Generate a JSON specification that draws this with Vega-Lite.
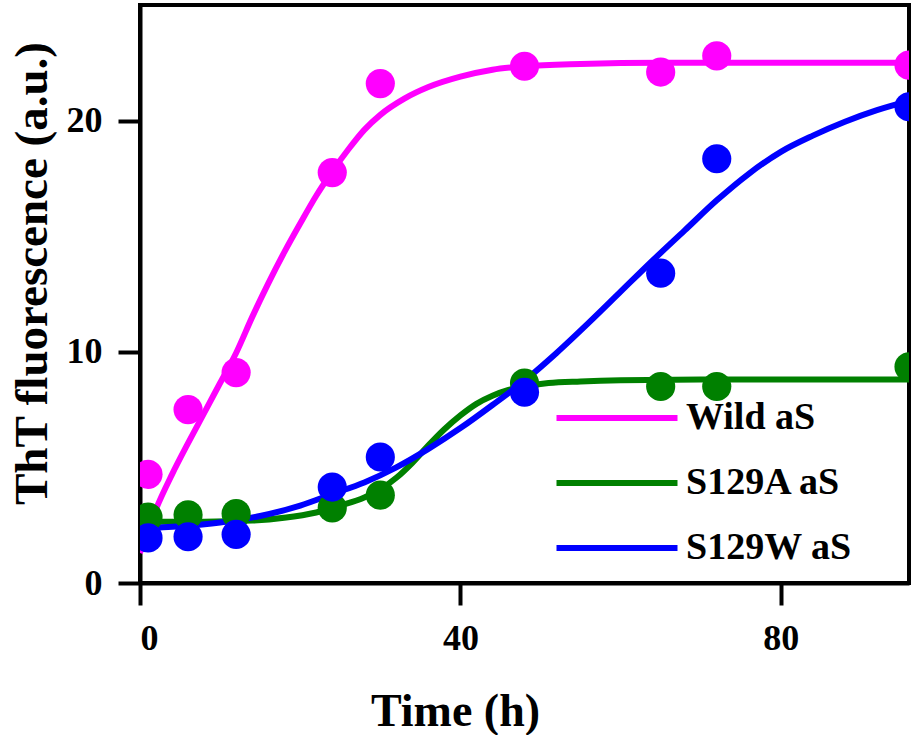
{
  "$schema": "https://vega.github.io/schema/vega-lite/v6.json",
  "description": "ThT fluorescence kinetics of wild-type and S129 mutant aS",
  "autosize": {"type": "none"},
  "padding": {"left": 140, "top": 5, "right": 4, "bottom": 152},
  "width": 769,
  "height": 578,
  "datasets": {
    "points": [
      {"series": "Wild aS", "time": 1, "value": 4.7},
      {"series": "Wild aS", "time": 6, "value": 7.5},
      {"series": "Wild aS", "time": 12, "value": 9.1},
      {"series": "Wild aS", "time": 24, "value": 17.75},
      {"series": "Wild aS", "time": 30, "value": 21.6},
      {"series": "Wild aS", "time": 48, "value": 22.35},
      {"series": "Wild aS", "time": 65, "value": 22.1},
      {"series": "Wild aS", "time": 72, "value": 22.8},
      {"series": "Wild aS", "time": 96, "value": 22.4},
      {"series": "S129A aS", "time": 1, "value": 2.85},
      {"series": "S129A aS", "time": 6, "value": 2.95},
      {"series": "S129A aS", "time": 12, "value": 3.0},
      {"series": "S129A aS", "time": 24, "value": 3.25},
      {"series": "S129A aS", "time": 30, "value": 3.8},
      {"series": "S129A aS", "time": 48, "value": 8.65},
      {"series": "S129A aS", "time": 65, "value": 8.5},
      {"series": "S129A aS", "time": 72, "value": 8.5},
      {"series": "S129A aS", "time": 96, "value": 9.35},
      {"series": "S129W aS", "time": 1, "value": 1.95},
      {"series": "S129W aS", "time": 6, "value": 2.0},
      {"series": "S129W aS", "time": 12, "value": 2.1},
      {"series": "S129W aS", "time": 24, "value": 4.15},
      {"series": "S129W aS", "time": 30, "value": 5.45},
      {"series": "S129W aS", "time": 48, "value": 8.25},
      {"series": "S129W aS", "time": 65, "value": 13.4},
      {"series": "S129W aS", "time": 72, "value": 18.35},
      {"series": "S129W aS", "time": 96, "value": 20.6}
    ],
    "fits": [
      {"series": "Wild aS", "time": 0, "value": 1.3},
      {"series": "Wild aS", "time": 1, "value": 2.3},
      {"series": "Wild aS", "time": 2, "value": 3.2},
      {"series": "Wild aS", "time": 4, "value": 4.7},
      {"series": "Wild aS", "time": 6, "value": 6.05},
      {"series": "Wild aS", "time": 8, "value": 7.35},
      {"series": "Wild aS", "time": 10, "value": 8.65},
      {"series": "Wild aS", "time": 12, "value": 9.95},
      {"series": "Wild aS", "time": 14, "value": 11.5},
      {"series": "Wild aS", "time": 16, "value": 12.95},
      {"series": "Wild aS", "time": 18, "value": 14.3},
      {"series": "Wild aS", "time": 20, "value": 15.55},
      {"series": "Wild aS", "time": 22, "value": 16.75},
      {"series": "Wild aS", "time": 24, "value": 17.8},
      {"series": "Wild aS", "time": 26, "value": 18.75},
      {"series": "Wild aS", "time": 28, "value": 19.6},
      {"series": "Wild aS", "time": 30, "value": 20.25},
      {"series": "Wild aS", "time": 33, "value": 20.95},
      {"series": "Wild aS", "time": 36, "value": 21.45},
      {"series": "Wild aS", "time": 40, "value": 21.9},
      {"series": "Wild aS", "time": 44, "value": 22.2},
      {"series": "Wild aS", "time": 48, "value": 22.35},
      {"series": "Wild aS", "time": 55, "value": 22.45},
      {"series": "Wild aS", "time": 65, "value": 22.5},
      {"series": "Wild aS", "time": 96, "value": 22.5},
      {"series": "S129A aS", "time": 0, "value": 2.65},
      {"series": "S129A aS", "time": 8, "value": 2.65},
      {"series": "S129A aS", "time": 14, "value": 2.7},
      {"series": "S129A aS", "time": 18, "value": 2.82},
      {"series": "S129A aS", "time": 22, "value": 3.05},
      {"series": "S129A aS", "time": 25, "value": 3.35},
      {"series": "S129A aS", "time": 28, "value": 3.7},
      {"series": "S129A aS", "time": 30, "value": 4.05},
      {"series": "S129A aS", "time": 32, "value": 4.55},
      {"series": "S129A aS", "time": 34, "value": 5.2},
      {"series": "S129A aS", "time": 36, "value": 5.95},
      {"series": "S129A aS", "time": 38, "value": 6.65},
      {"series": "S129A aS", "time": 40, "value": 7.25},
      {"series": "S129A aS", "time": 42, "value": 7.75},
      {"series": "S129A aS", "time": 44, "value": 8.1},
      {"series": "S129A aS", "time": 46, "value": 8.35},
      {"series": "S129A aS", "time": 48, "value": 8.5},
      {"series": "S129A aS", "time": 51, "value": 8.65},
      {"series": "S129A aS", "time": 55, "value": 8.72},
      {"series": "S129A aS", "time": 60, "value": 8.77},
      {"series": "S129A aS", "time": 70, "value": 8.8},
      {"series": "S129A aS", "time": 96, "value": 8.8},
      {"series": "S129W aS", "time": 0, "value": 2.35},
      {"series": "S129W aS", "time": 5, "value": 2.45},
      {"series": "S129W aS", "time": 10, "value": 2.62},
      {"series": "S129W aS", "time": 15, "value": 2.9},
      {"series": "S129W aS", "time": 20, "value": 3.35},
      {"series": "S129W aS", "time": 24, "value": 3.85},
      {"series": "S129W aS", "time": 28, "value": 4.35},
      {"series": "S129W aS", "time": 32, "value": 5.0},
      {"series": "S129W aS", "time": 36, "value": 5.8},
      {"series": "S129W aS", "time": 40, "value": 6.7},
      {"series": "S129W aS", "time": 44, "value": 7.7},
      {"series": "S129W aS", "time": 48, "value": 8.75},
      {"series": "S129W aS", "time": 52, "value": 9.95},
      {"series": "S129W aS", "time": 56, "value": 11.25},
      {"series": "S129W aS", "time": 60, "value": 12.6},
      {"series": "S129W aS", "time": 64, "value": 13.95},
      {"series": "S129W aS", "time": 68, "value": 15.25},
      {"series": "S129W aS", "time": 72, "value": 16.55},
      {"series": "S129W aS", "time": 76, "value": 17.7},
      {"series": "S129W aS", "time": 80, "value": 18.65},
      {"series": "S129W aS", "time": 84, "value": 19.35},
      {"series": "S129W aS", "time": 88, "value": 19.95},
      {"series": "S129W aS", "time": 92, "value": 20.45},
      {"series": "S129W aS", "time": 96, "value": 20.85}
    ]
  },
  "layer": [
    {
      "data": {"name": "fits"},
      "mark": {"type": "line", "strokeWidth": 6, "interpolate": "monotone", "clip": true},
      "encoding": {
        "x": {
          "field": "time",
          "type": "quantitative",
          "scale": {"domain": [0, 96], "nice": false, "zero": false},
          "axis": {"values": [0, 40, 80], "title": "Time (h)", "titleX": 315, "titlePadding": 33}
        },
        "y": {
          "field": "value",
          "type": "quantitative",
          "scale": {"domain": [0, 25], "nice": false},
          "axis": {"values": [0, 10, 20], "title": "ThT fluorescence (a.u.)", "titleY": 268, "titlePadding": 10, "titleFontSize": 47}
        },
        "detail": {"field": "series"},
        "color": {
          "field": "series",
          "type": "nominal",
          "scale": {
            "domain": ["Wild aS", "S129A aS", "S129W aS"],
            "range": ["#ff00ff", "#008000", "#0000ff"]
          },
          "legend": {
            "title": null,
            "orient": "none",
            "legendX": 458,
            "legendY": 394,
            "padding": 0,
            "symbolType": "M-4,0H4",
            "symbolSize": 915,
            "symbolStrokeWidth": 6,
            "labelFont": "Liberation Serif",
            "labelFontWeight": "bold",
            "labelFontSize": 38,
            "labelColor": "black",
            "labelOffset": 50,
            "rowPadding": 27,
            "labelLimit": 300
          }
        }
      }
    },
    {
      "data": {"name": "points"},
      "mark": {"type": "circle", "opacity": 1, "size": 850, "clip": true},
      "encoding": {
        "x": {"field": "time", "type": "quantitative"},
        "y": {"field": "value", "type": "quantitative"},
        "fill": {
          "field": "series",
          "type": "nominal",
          "scale": {
            "domain": ["Wild aS", "S129A aS", "S129W aS"],
            "range": ["#ff00ff", "#008000", "#0000ff"]
          },
          "legend": null
        }
      }
    }
  ],
  "config": {
    "font": "Liberation Serif",
    "view": {"stroke": "black", "strokeWidth": 4},
    "axis": {
      "grid": false,
      "domainColor": "black",
      "domainWidth": 4,
      "tickColor": "black",
      "tickWidth": 4,
      "tickSize": 22,
      "labelFont": "Liberation Serif",
      "labelFontSize": 36,
      "labelFontWeight": "bold",
      "labelColor": "black",
      "labelPadding": 16,
      "titleFont": "Liberation Serif",
      "titleFontSize": 46,
      "titleFontWeight": "bold",
      "titleColor": "black"
    }
  }
}
